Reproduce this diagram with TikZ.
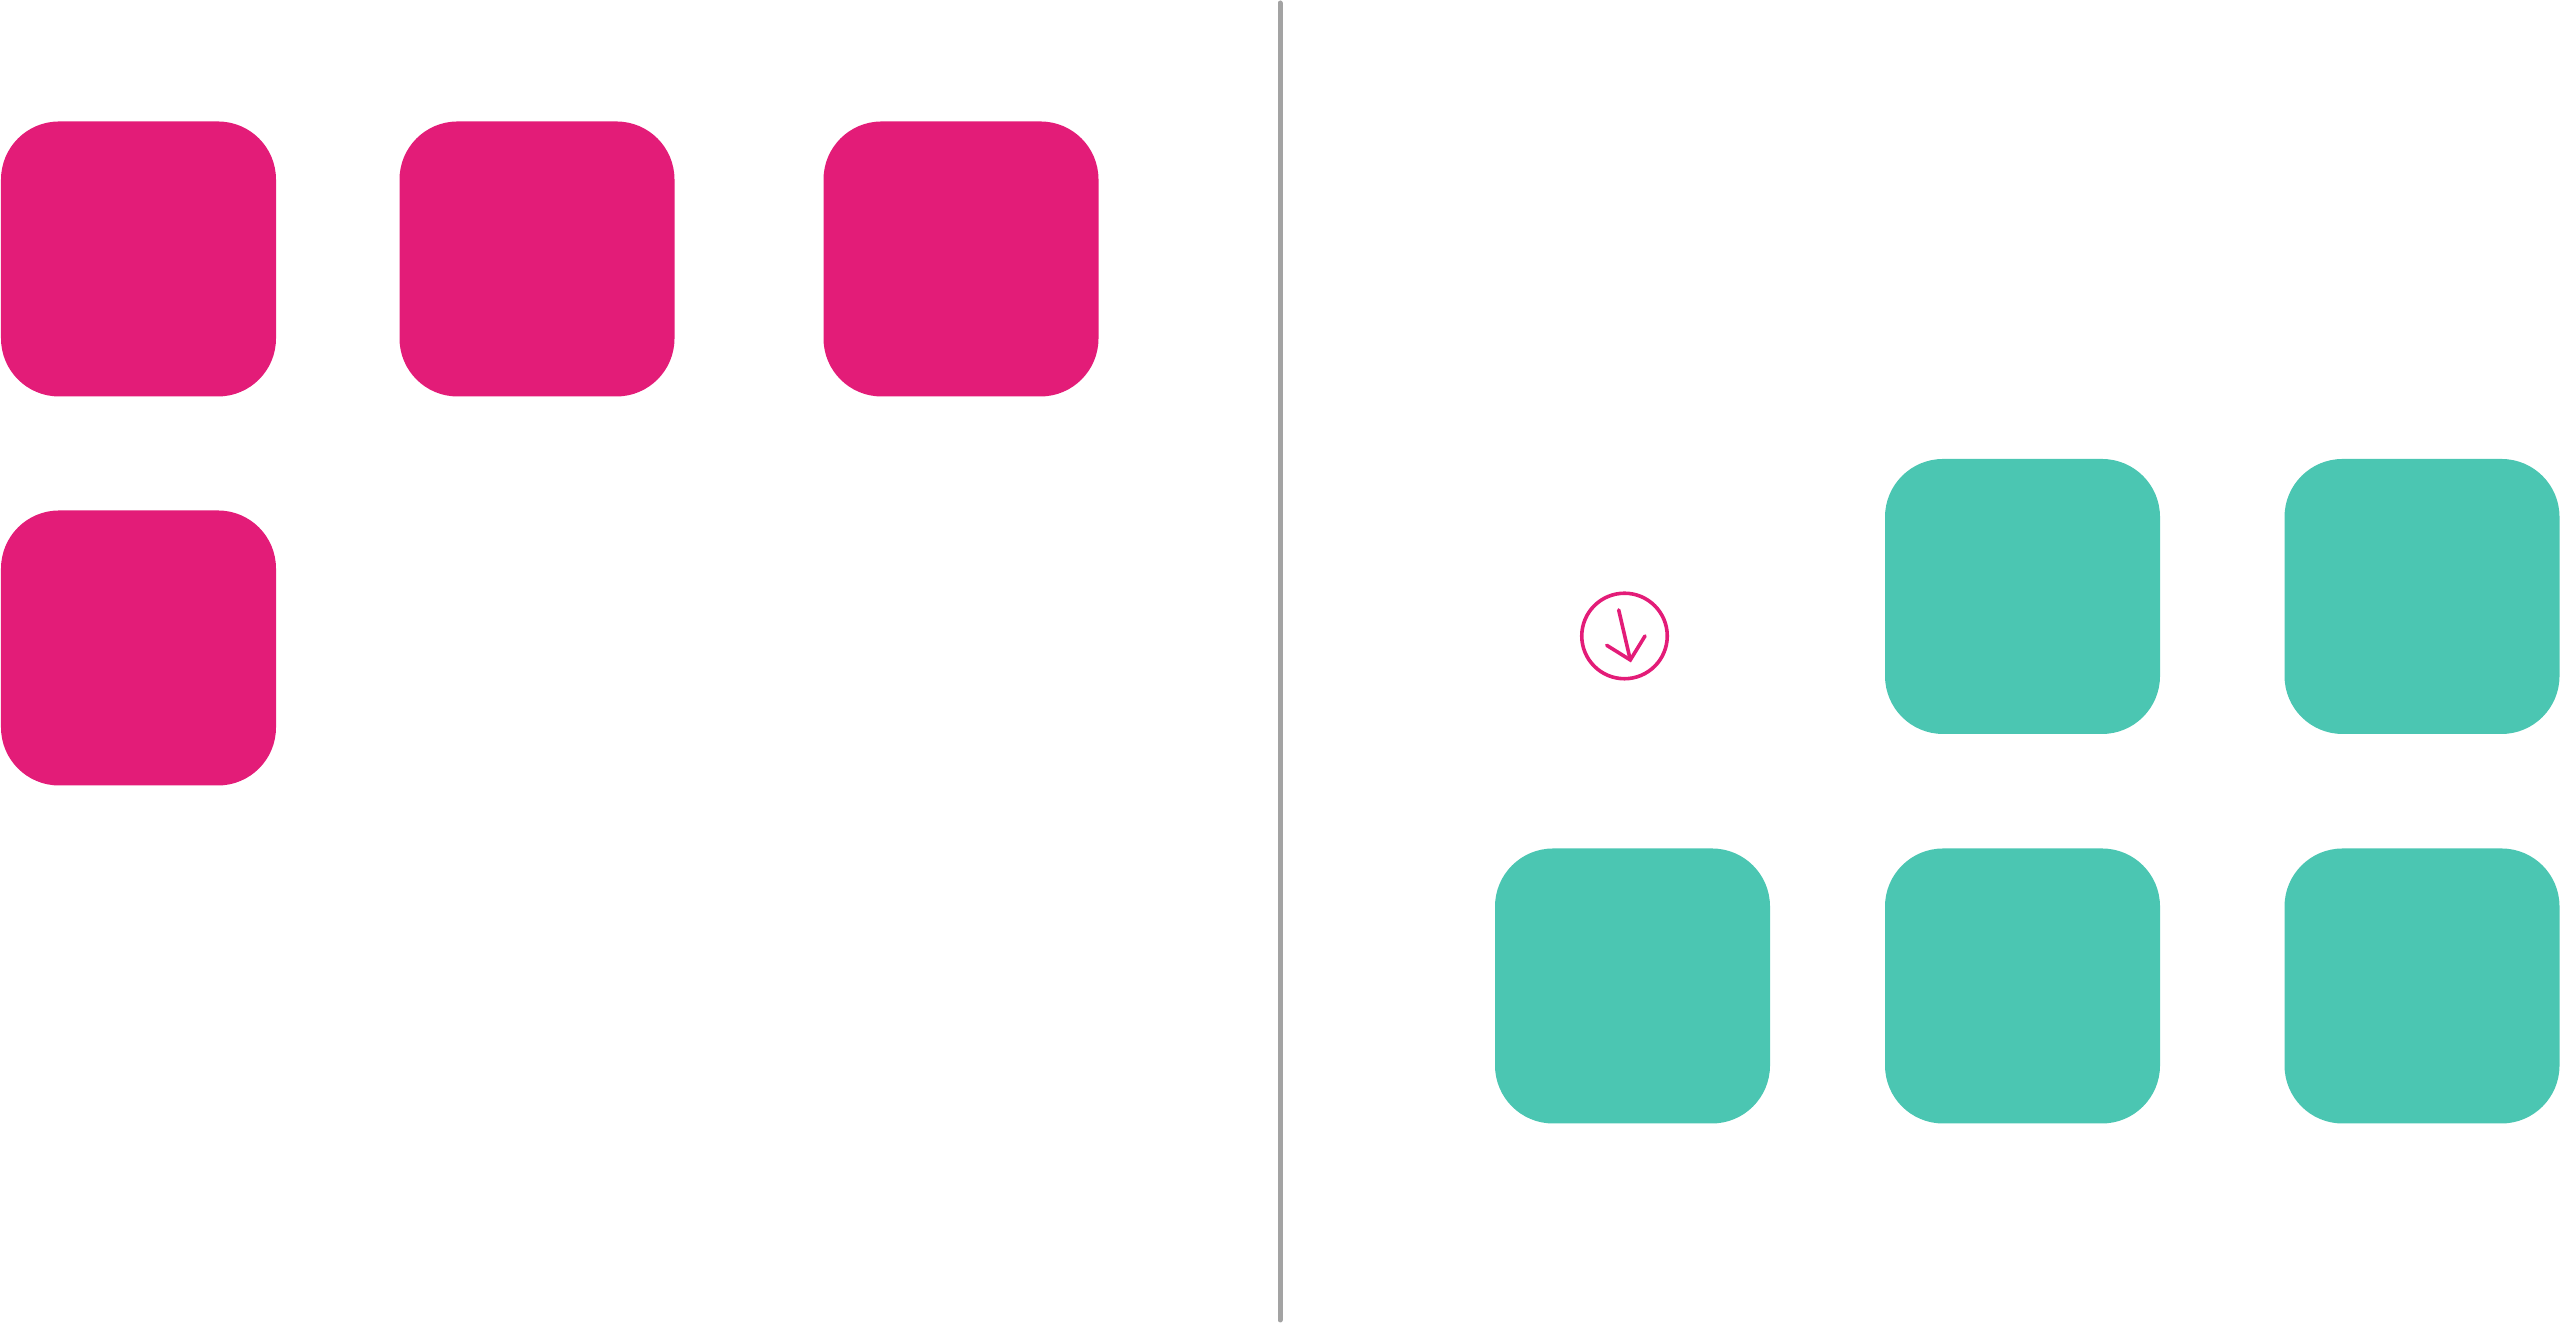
\documentclass[tikz,border=0pt]{standalone}
\usepackage{xcolor}
\definecolor{pinkbox}{HTML}{E31C78}
\definecolor{tealbox}{HTML}{4BC6B2}
\definecolor{rulegrey}{HTML}{A3A3A3}
\tikzset{
  pink/.style={fill=pinkbox,rounded corners=.58cm,minimum size=2.75cm,inner sep=0pt,outer sep=0pt},
  teal/.style={fill=tealbox,rounded corners=.58cm,minimum size=2.75cm,inner sep=0pt,outer sep=0pt},
  mark line/.style={draw=pinkbox,line width=.036cm,line cap=round,line join=miter}
}
\begin{document}
\begin{tikzpicture}
  \useasboundingbox (0,0) rectangle (25.6,13.23);
  \node[pink] (p1) at (1.385,10.64) {};
  \node[pink] (p2) at (5.37,10.64) {};
  \node[pink] (p3) at (9.61,10.64) {};
  \node[pink] (p4) at (1.385,6.75) {};
  \node[teal] (t1) at (20.225,7.265) {};
  \node[teal] (t2) at (24.22,7.265) {};
  \node[teal] (t3) at (16.325,3.37) {};
  \node[teal] (t4) at (20.225,3.37) {};
  \node[teal] (t5) at (24.22,3.37) {};
  % divider
  \coordinate (top) at (12.80,13.2);
  \coordinate (bot) at (12.80,.03);
  \draw [rulegrey,line width=.05cm,line cap=round] (top)--(bot);
  % round mark
  \node[mark line,circle,minimum size=.855cm,inner sep=0pt] (mark) at (16.245,6.87) {};
  \coordinate (tail) at (16.187,7.13);
  \coordinate (tip) at (16.303,6.63);
  \coordinate (wingl) at (16.067,6.777);
  \coordinate (wingr) at (16.45,6.87);
  \draw [mark line] (tail)--(tip);
  \draw [mark line] (wingl)--(tip)--(wingr);
\end{tikzpicture}
\end{document}
